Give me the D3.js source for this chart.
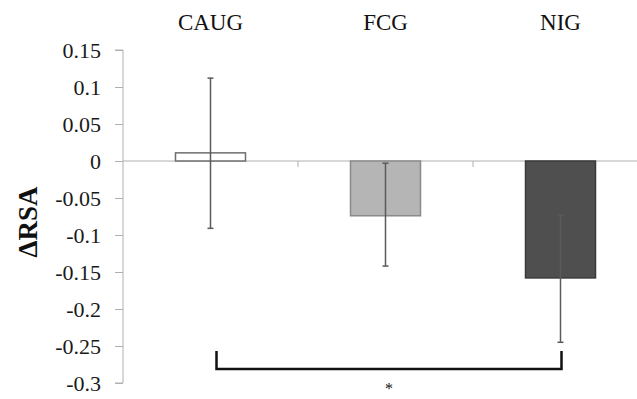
<!DOCTYPE html>
<html>
<head>
<meta charset="utf-8">
<script src="https://cdn.jsdelivr.net/npm/d3@7"></script>
<style>
  body { margin: 0; background: #fff; }
  svg text { font-family: "Liberation Serif", "Times New Roman", "DejaVu Serif", serif; }
</style>
</head>
<body>
<div id="chart"></div>
<script>
// data
var groups = ["CAUG", "FCG", "NIG"];
var means = [0.011, -0.074, -0.158];
var errUp = [0.112, -0.003, -0.073];
var errDown = [-0.091, -0.142, -0.245];
var yTicks = [0.15, 0.1, 0.05, 0, -0.05, -0.1, -0.15, -0.2, -0.25, -0.3];
var fills = ["#ffffff", "#b5b5b5", "#4f4f4f"];
var strokes = ["#6e6e6e", "#8a8a8a", "#3a3a3a"];

var width = 637, height = 399;
var plotLeft = 123, plotTop = 50, plotBottom = 383;
var serif = "Liberation Serif, Times New Roman, serif";

var svg = d3.select("#chart").append("svg").attr("width", width).attr("height", height);

var y = d3.scaleLinear().domain([-0.3, 0.15]).range([plotBottom, plotTop]);
var x = d3.scaleBand().domain(groups).range([plotLeft, plotLeft + 3 * 175]).paddingInner(0).paddingOuter(0);
var bw = x.bandwidth() * 0.4;

// y axis
var yAxis = d3.axisLeft(y).tickValues(yTicks).tickSize(8).tickPadding(14)
  .tickFormat(function(d) { return d === 0 ? "0" : String(+d.toFixed(2)); });
var ga = svg.append("g").attr("transform", "translate(" + plotLeft + ",0)").call(yAxis)
  .attr("font-family", serif).attr("font-size", 22);
ga.select(".domain").attr("stroke", "#b0b0b0").attr("d", "M-8," + plotTop + "H0V" + plotBottom + "H-8");
ga.selectAll(".tick line").attr("stroke", "#b0b0b0");
ga.selectAll(".tick text").attr("fill", "#1a1a1a");

// zero line with category ticks
svg.append("line").attr("x1", plotLeft).attr("x2", width).attr("y1", y(0)).attr("y2", y(0))
  .attr("stroke", "#b0b0b0").attr("stroke-width", 1);
svg.selectAll(".cattick").data(groups.slice(1)).enter().append("line")
  .attr("x1", function(d) { return x(d); }).attr("x2", function(d) { return x(d); })
  .attr("y1", y(0)).attr("y2", y(0) + 6).attr("stroke", "#b0b0b0");

// bars
svg.selectAll(".bar").data(groups).enter().append("rect")
  .attr("x", function(d) { return x(d) + (x.bandwidth() - bw) / 2; })
  .attr("y", function(d, i) { return y(Math.max(0, means[i])); })
  .attr("width", bw)
  .attr("height", function(d, i) { return Math.abs(y(means[i]) - y(0)); })
  .attr("fill", function(d, i) { return fills[i]; })
  .attr("stroke", function(d, i) { return strokes[i]; })
  .attr("stroke-width", 1.5);

// error bars
var eb = svg.selectAll(".err").data(groups).enter().append("g");
eb.append("line")
  .attr("x1", function(d) { return x(d) + x.bandwidth() / 2; })
  .attr("x2", function(d) { return x(d) + x.bandwidth() / 2; })
  .attr("y1", function(d, i) { return y(errUp[i]); })
  .attr("y2", function(d, i) { return y(errDown[i]); })
  .attr("stroke", "#5a5a5a").attr("stroke-width", 1.5);
[errUp, errDown].forEach(function(arr) {
  eb.append("line")
    .attr("x1", function(d) { return x(d) + x.bandwidth() / 2 - 3; })
    .attr("x2", function(d) { return x(d) + x.bandwidth() / 2 + 3; })
    .attr("y1", function(d, i) { return y(arr[i]); })
    .attr("y2", function(d, i) { return y(arr[i]); })
    .attr("stroke", "#5a5a5a").attr("stroke-width", 1.5);
});

// category labels on top
svg.selectAll(".cat").data(groups).enter().append("text")
  .attr("x", function(d) { return x(d) + x.bandwidth() / 2; })
  .attr("y", 30).attr("text-anchor", "middle")
  .attr("font-family", serif).attr("font-size", 23).attr("fill", "#111")
  .text(function(d) { return d; });

// y label
svg.append("text").attr("transform", "translate(37,222) rotate(-90)")
  .attr("text-anchor", "middle").attr("font-family", serif).attr("font-size", 27)
  .attr("font-weight", "bold").attr("fill", "#111").text("ΔRSA");

// significance bracket CAUG - NIG
var bx1 = x("CAUG") + x.bandwidth() / 2 + 6, bx2 = x("NIG") + x.bandwidth() / 2 + 1;
svg.append("path")
  .attr("d", "M" + bx1 + ",351V369H" + bx2 + "V351")
  .attr("fill", "none").attr("stroke", "#111").attr("stroke-width", 2.5);
svg.append("text").attr("x", (bx1 + bx2) / 2).attr("y", 394)
  .attr("text-anchor", "middle").attr("font-family", serif).attr("font-size", 16)
  .attr("fill", "#111").text("*");
</script>
</body>
</html>
